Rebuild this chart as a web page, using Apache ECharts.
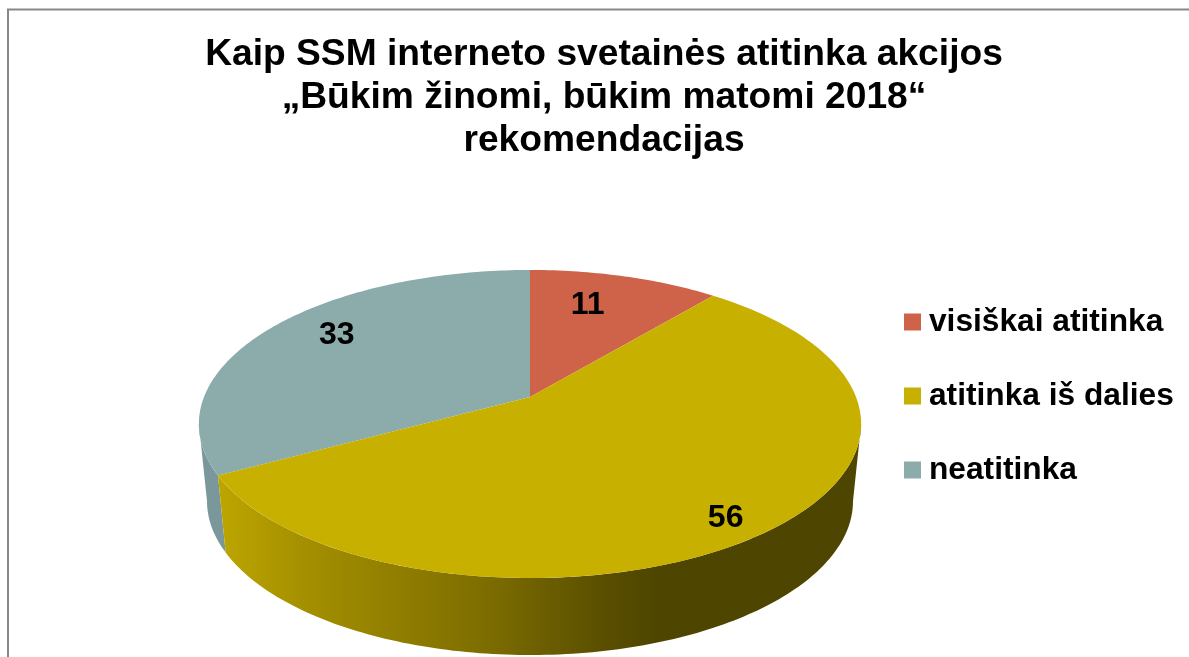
<!DOCTYPE html>
<html><head><meta charset="utf-8">
<style>html,body{margin:0;padding:0;background:#fff}#c{width:1189px;height:657px}</style>
<script src="https://cdn.jsdelivr.net/npm/echarts@6/dist/echarts.min.js"></script>
</head><body><div id="c"></div>
<script>
const titleLines = ['Kaip SSM interneto svetainės atitinka akcijos', '„Būkim žinomi, būkim matomi 2018“', 'rekomendacijas'];
const categories = ['visiškai atitinka', 'atitinka iš dalies', 'neatitinka'];
const values = [11, 56, 33];
const faceColors = ['#CF6349', '#C8B000', '#8CABAB'];

// label placement on the disc: angle from 12 o'clock (deg) and fraction of radius
const labelAngles = [15.7, 143, 305.9];
const labelRadii = [0.735, 0.875, 0.791];

// perspective disc geometry
const TOP = {cx: 530, cy: 397, r: 326, h: 149.3, k: 0.1753};
const BASE = {cx: 530, cy: 474, r: 318, h: 149.3, k: 0.1753};
const FONT = '"Liberation Sans", Arial, sans-serif';
// the side wall faces the viewer between the disc's two silhouette points
const FRONT_FROM = Math.acos(-TOP.k) * 180 / Math.PI, FRONT_TO = 360 - FRONT_FROM;

const wallFills = [
  '#A5533D',
  {type: 'linear', global: true, x: 218, y: 0, x2: 861, y2: 0, colorStops: [
    {offset: 0, color: '#BDA600'}, {offset: 0.13, color: '#A59000'}, {offset: 0.41, color: '#7E6E00'},
    {offset: 0.6, color: '#5A4F00'}, {offset: 0.68, color: '#4E4500'}, {offset: 1, color: '#4E4500'}]},
  '#7A979C'
];

function project(deg, rr, g) {
  const a = deg * Math.PI / 180, u = rr * Math.sin(a), v = rr * Math.cos(a), d = 1 + g.k * v;
  return [g.cx + g.r * u / d, g.cy - g.h * v / d];
}
function arc(a0, a1, g) {
  const pts = [], n = Math.max(2, Math.ceil(Math.abs(a1 - a0)));
  for (let i = 0; i <= n; i++) pts.push(project(a0 + (a1 - a0) * i / n, 1, g));
  return pts;
}

const total = values.reduce((s, v) => s + v, 0);
let acc = 0;
const series = categories.map((name, i) => {
  const start = acc / total * 360;
  acc += values[i];
  const end = acc / total * 360;
  return {
    type: 'custom', name, coordinateSystem: 'none',
    z: i === 1 ? 3 : 2,
    itemStyle: {color: faceColors[i]},
    data: [[start, end, values[i]]],
    silent: true,
    renderItem(params, api) {
      const a0 = api.value(0), a1 = api.value(1);
      const w0 = Math.max(a0, FRONT_FROM), w1 = Math.min(a1, FRONT_TO);
      const children = [];
      if (w1 > w0) {
        children.push({type: 'polygon', z2: 1, shape: {points: arc(w0, w1, TOP).concat(arc(w1, w0, BASE))}, style: {fill: wallFills[i]}});
      }
      const lp = project(labelAngles[i], labelRadii[i], TOP);
      children.push(
        {type: 'polygon', z2: 2, shape: {points: [project(0, 0, TOP)].concat(arc(a0, a1, TOP))}, style: {fill: faceColors[i]}},
        {type: 'text', z2: 3, x: lp[0], y: lp[1] + 2, style: {text: String(api.value(2)), fill: '#000', font: 'bold 32px ' + FONT, align: 'center', verticalAlign: 'middle'}}
      );
      return {type: 'group', children};
    }
  };
});

const chart = echarts.init(document.getElementById('c'), null, {renderer: 'canvas'});
chart.setOption({
  animation: false,
  backgroundColor: '#fff',
  title: {
    text: titleLines.join('\n'), left: 604, top: 33, padding: 0, textAlign: 'center',
    textStyle: {color: '#000', fontFamily: FONT, fontWeight: 'bold', fontSize: 37.2, lineHeight: 43}
  },
  legend: {
    orient: 'vertical', left: 899, top: 301, itemWidth: 17, itemHeight: 17, itemGap: 42,
    icon: 'rect', selectedMode: false, data: categories,
    textStyle: {color: '#000', fontFamily: FONT, fontWeight: 'bold', fontSize: 31.7, padding: [0, 0, 0, 3]}
  },
  graphic: [{type: 'polyline', silent: true, shape: {points: [[8, 657], [8, 9.5], [1189, 9.5]]}, style: {fill: null, stroke: '#888', lineWidth: 2}}],
  series
});
</script></body></html>
